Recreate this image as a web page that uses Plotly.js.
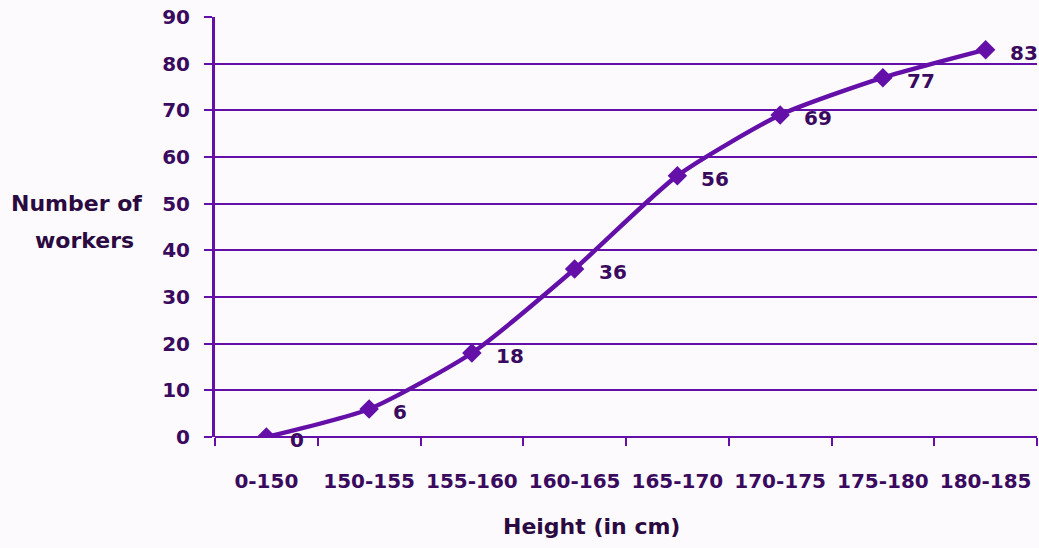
<!DOCTYPE html>
<html><head><meta charset="utf-8">
<script src="https://cdn.plot.ly/plotly-3.0.1.min.js"></script>
<style>html,body{margin:0;padding:0;background:#fcfafd;}</style>
</head><body><div id="chart" style="width:1039px;height:548px;"></div>
<script>
const categories = ['0-150','150-155','155-160','160-165','165-170','170-175','175-180','180-185'];
const workers = [0, 6, 18, 36, 56, 69, 77, 83];
const yTicks = [0,10,20,30,40,50,60,70,80,90];
const yTitleLines = ['Number of', 'workers'];
const xTitle = 'Height (in cm)';

const purple = '#6410a8';
const textCol = '#3a0a5e';
const titleCol = '#2a0a40';
const fontFam = '"DejaVu Sans", Verdana, sans-serif';

const trace = {
  x: categories, y: workers, type: 'scatter', mode: 'lines+markers',
  line: {color: purple, width: 4.5, shape: 'spline', smoothing: 0.6},
  marker: {symbol: 'diamond', size: 15, color: purple},
  hoverinfo: 'none'
};

const annotations = categories.map((c, i) => ({
  x: c, y: workers[i], xref: 'x', yref: 'y', text: String(workers[i]),
  showarrow: false, xanchor: 'left', yanchor: 'middle', xshift: 22, yshift: -3,
  font: {family: fontFam, size: 20, color: textCol, weight: 'bold'}
}));

const titleAnn = [
  {x: -0.168, y: 0.557, text: yTitleLines[0]},
  {x: -0.159, y: 0.469, text: yTitleLines[1]},
  {x: 0.4586, y: -0.214, text: xTitle}
].map(a => Object.assign({
  xref: 'paper', yref: 'paper', xanchor: 'center', yanchor: 'middle', showarrow: false,
  font: {family: fontFam, size: 22, color: titleCol, weight: 'bold'}
}, a));

const layout = {
  width: 1039, height: 548,
  margin: {l: 215, r: 2, t: 17, b: 111},
  paper_bgcolor: '#fcfafd', plot_bgcolor: '#fcfafd',
  showlegend: false,
  font: {family: fontFam, color: textCol},
  xaxis: {
    type: 'category', range: [-0.5, 7.5], tickson: 'boundaries',
    ticks: 'outside', ticklen: 8, tickwidth: 2, tickcolor: purple,
    showgrid: false, showline: false, zeroline: false,
    ticklabelstandoff: 30,
    tickfont: {family: fontFam, size: 20, color: textCol, weight: 'bold'},
    title: {text: ''}
  },
  yaxis: {
    range: [0, 90], tickvals: yTicks, ticks: 'outside', ticklen: 8, tickwidth: 2, tickcolor: purple,
    showline: true, linecolor: purple, linewidth: 3,
    showgrid: true, gridcolor: purple, gridwidth: 2,
    zeroline: true, zerolinecolor: purple, zerolinewidth: 2,
    ticklabelstandoff: 10,
    tickfont: {family: fontFam, size: 20, color: textCol, weight: 'bold'},
    title: {text: ''}
  },
  annotations: annotations.concat(titleAnn)
};

Plotly.newPlot('chart', [trace], layout, {displayModeBar: false, staticPlot: true});
</script></body></html>
